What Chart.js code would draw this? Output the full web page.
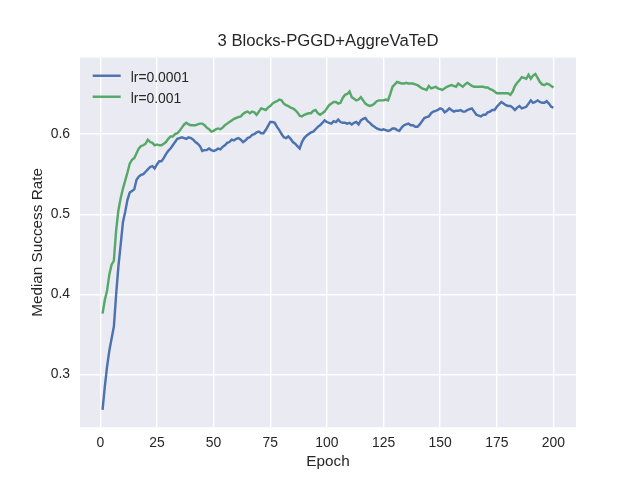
<!DOCTYPE html>
<html>
<head>
<meta charset="utf-8">
<script src="https://cdn.jsdelivr.net/npm/chart.js@4.4.1/dist/chart.umd.min.js"></script>
<style>
  html, body { margin: 0; padding: 0; background: #ffffff; }
  #wrap { width: 640px; height: 480px; }
</style>
</head>
<body>
<div id="wrap"><canvas id="c" width="640" height="480"></canvas></div>
<script>
const chartTitle = "3 Blocks-PGGD+AggreVaTeD";
const xTitle = "Epoch";
const yTitle = "Median Success Rate";
const seriesNames = ["lr=0.0001", "lr=0.001"];
const xTicks = [0, 25, 50, 75, 100, 125, 150, 175, 200];
const yTicks = [0.3, 0.4, 0.5, 0.6];

const epochs = Array.from({length: 200}, (_, i) => i + 1);

const lr0001 = [
0.256,0.285,0.310,0.330,0.345,0.360,0.400,0.435,0.462,0.490,
0.503,0.518,0.527,0.529,0.531,0.543,0.547,0.549,0.550,0.553,
0.556,0.559,0.560,0.557,0.562,0.566,0.566,0.570,0.575,0.579,
0.582,0.586,0.590,0.594,0.595,0.596,0.595,0.594,0.596,0.595,
0.593,0.590,0.588,0.585,0.579,0.580,0.580,0.582,0.580,0.579,
0.580,0.582,0.581,0.584,0.586,0.589,0.590,0.593,0.592,0.594,
0.595,0.593,0.590,0.592,0.595,0.596,0.599,0.600,0.602,0.603,
0.601,0.601,0.605,0.610,0.615,0.615,0.614,0.609,0.605,0.600,
0.596,0.595,0.597,0.594,0.590,0.588,0.585,0.582,0.590,0.595,
0.598,0.600,0.602,0.603,0.606,0.609,0.611,0.614,0.617,0.615,
0.614,0.613,0.616,0.615,0.618,0.615,0.614,0.614,0.613,0.614,
0.612,0.614,0.615,0.612,0.617,0.619,0.620,0.616,0.614,0.611,
0.609,0.607,0.606,0.605,0.606,0.605,0.604,0.605,0.607,0.607,
0.605,0.604,0.608,0.611,0.612,0.613,0.611,0.611,0.609,0.609,
0.612,0.616,0.620,0.621,0.622,0.626,0.628,0.629,0.630,0.632,
0.631,0.627,0.629,0.632,0.630,0.628,0.629,0.629,0.630,0.628,
0.628,0.630,0.631,0.632,0.628,0.624,0.623,0.622,0.624,0.624,
0.627,0.628,0.630,0.630,0.634,0.637,0.640,0.638,0.636,0.635,
0.635,0.633,0.630,0.633,0.635,0.632,0.633,0.634,0.638,0.642,
0.639,0.640,0.642,0.640,0.639,0.639,0.641,0.638,0.634,0.633
];

const lr001 = [
0.376,0.393,0.405,0.425,0.437,0.442,0.480,0.505,0.520,0.532,
0.542,0.552,0.563,0.568,0.570,0.576,0.582,0.585,0.586,0.588,
0.593,0.590,0.589,0.586,0.587,0.586,0.586,0.588,0.590,0.594,
0.597,0.597,0.600,0.601,0.604,0.608,0.612,0.614,0.612,0.611,
0.611,0.611,0.612,0.613,0.613,0.611,0.608,0.606,0.603,0.604,
0.606,0.607,0.606,0.608,0.611,0.613,0.615,0.617,0.619,0.620,
0.621,0.622,0.625,0.627,0.628,0.626,0.628,0.627,0.624,0.628,
0.632,0.631,0.630,0.633,0.635,0.638,0.640,0.641,0.643,0.642,
0.638,0.636,0.635,0.633,0.632,0.630,0.627,0.623,0.622,0.624,
0.625,0.626,0.626,0.629,0.630,0.626,0.624,0.626,0.628,0.632,
0.636,0.638,0.640,0.640,0.638,0.639,0.645,0.649,0.650,0.653,
0.646,0.644,0.642,0.643,0.646,0.642,0.638,0.636,0.635,0.636,
0.638,0.641,0.642,0.642,0.642,0.643,0.642,0.650,0.659,0.662,
0.665,0.664,0.663,0.663,0.664,0.663,0.663,0.663,0.662,0.661,
0.659,0.657,0.656,0.655,0.660,0.657,0.658,0.659,0.657,0.656,
0.655,0.657,0.659,0.660,0.661,0.660,0.659,0.663,0.661,0.659,
0.662,0.664,0.662,0.660,0.659,0.659,0.659,0.659,0.659,0.658,
0.658,0.656,0.655,0.653,0.651,0.651,0.651,0.651,0.651,0.651,
0.649,0.653,0.660,0.664,0.667,0.671,0.670,0.669,0.674,0.669,
0.673,0.675,0.670,0.665,0.662,0.661,0.663,0.662,0.660,0.658
];

const seriesValues = [lr0001, lr001];
const seriesColors = ["#4C72B0", "#55A868"];
const FONT = "'Liberation Sans', Arial, Helvetica, sans-serif";
const TEXT = "#262626";

const bgPlugin = {
  id: 'bg',
  beforeDraw(chart) {
    const {ctx, chartArea: a} = chart;
    ctx.save();
    ctx.fillStyle = '#ffffff';
    ctx.fillRect(0, 0, chart.width, chart.height);
    ctx.fillStyle = '#EAEAF2';
    ctx.fillRect(a.left, a.top, a.right - a.left, a.bottom - a.top);
    ctx.restore();
  }
};

const legendPlugin = {
  id: 'innerLegend',
  afterDraw(chart) {
    const ctx = chart.ctx;
    const a = chart.chartArea;
    ctx.save();
    chart.data.datasets.forEach((ds, i) => {
      const y = a.top + 18.1 + i * 21;
      ctx.strokeStyle = ds.borderColor;
      ctx.lineWidth = 2.43;
      ctx.beginPath();
      ctx.moveTo(a.left + 12.7, y);
      ctx.lineTo(a.left + 40.7, y);
      ctx.stroke();
      ctx.fillStyle = TEXT;
      ctx.font = "13.9px " + FONT;
      ctx.textBaseline = 'alphabetic';
      ctx.textAlign = 'left';
      ctx.fillText(ds.label, a.left + 50.7, y + 5.8);
    });
    ctx.restore();
  }
};

new Chart(document.getElementById('c'), {
  type: 'line',
  data: {
    datasets: seriesValues.map((vals, i) => ({
      label: seriesNames[i],
      data: epochs.map((e, j) => ({x: e, y: vals[j]})),
      borderColor: seriesColors[i],
      backgroundColor: seriesColors[i],
      borderWidth: 2.43,
      pointRadius: 0,
      tension: 0,
      fill: false
    }))
  },
  options: {
    responsive: false,
    animation: false,
    devicePixelRatio: 1,
    layout: { padding: { left: 0, right: 64, top: 0, bottom: 0 } },
    plugins: {
      legend: { display: false },
      tooltip: { enabled: false },
      title: {
        display: true,
        fullSize: false,
        text: chartTitle,
        color: TEXT,
        font: { family: FONT, size: 16.7, weight: 'normal', lineHeight: 1.2 },
        padding: { top: 31.5, bottom: 6.1 }
      }
    },
    scales: {
      x: {
        type: 'linear',
        min: -8.95,
        max: 209.95,
        afterBuildTicks(scale) { scale.ticks = xTicks.map(v => ({value: v})); },
        afterFit(scale) { scale.height = 52.8; },
        grid: { color: '#ffffff', lineWidth: 1.4, drawTicks: false },
        border: { display: false },
        ticks: {
          color: TEXT, padding: 7.7,
          font: { family: FONT, size: 13.9 },
          callback: v => String(v),
          maxRotation: 0, autoSkip: false
        },
        title: {
          display: true, text: xTitle, color: TEXT,
          font: { family: FONT, size: 15.3, lineHeight: 1.2 },
          padding: 9.4
        }
      },
      y: {
        type: 'linear',
        min: 0.2344,
        max: 0.6953,
        afterBuildTicks(scale) { scale.ticks = yTicks.map(v => ({value: v})); },
        afterFit(scale) { scale.width = 80; },
        grid: { color: '#ffffff', lineWidth: 1.4, drawTicks: false },
        border: { display: false },
        ticks: {
          color: TEXT, padding: 10,
          font: { family: FONT, size: 13.9 },
          callback: v => Number(v).toFixed(1),
          autoSkip: false
        },
        title: {
          display: true, text: yTitle, color: TEXT,
          font: { family: FONT, size: 15.3, lineHeight: 1.2 },
          padding: 28.2
        }
      }
    }
  },
  plugins: [bgPlugin, legendPlugin]
});
</script>
</body>
</html>
